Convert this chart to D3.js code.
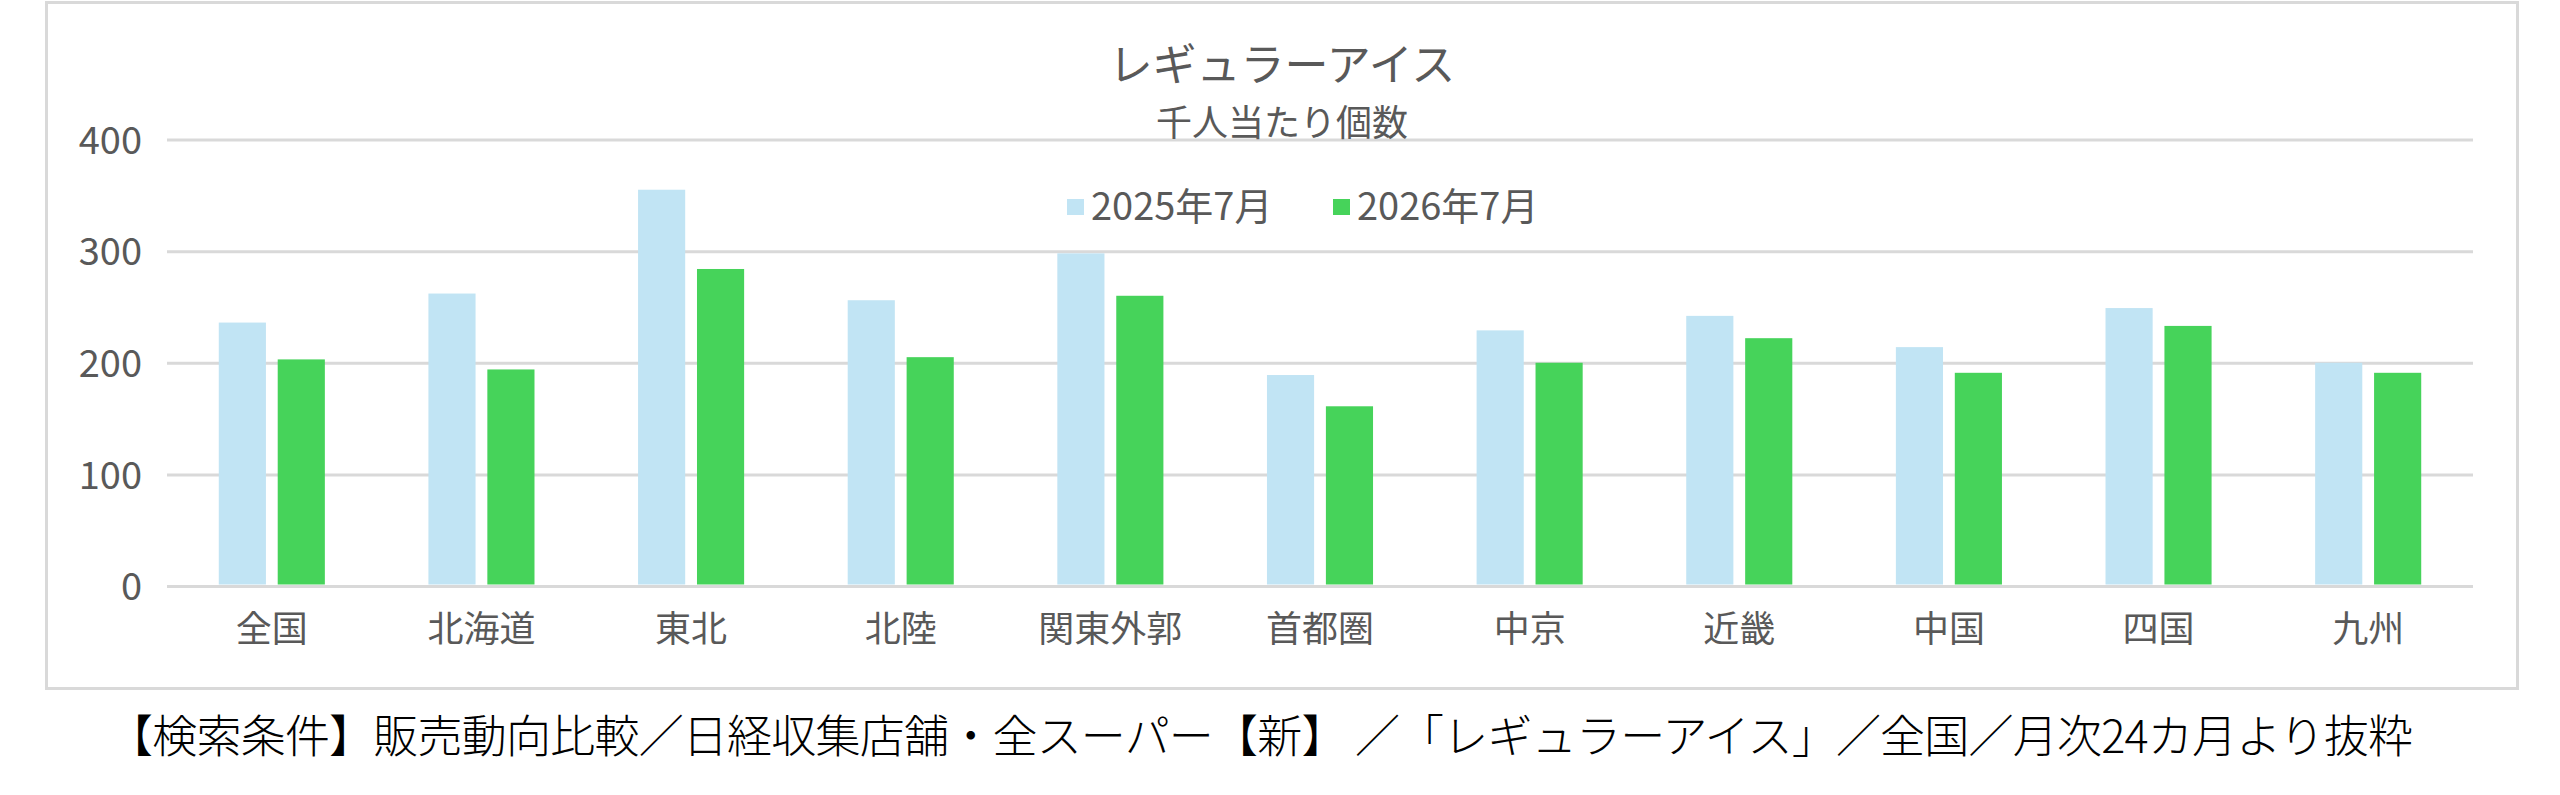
<!DOCTYPE html>
<html>
<head>
<meta charset="utf-8">
<script src="https://cdn.jsdelivr.net/npm/d3@7"></script>
<style>
  html, body { margin: 0; padding: 0; background: #fff; }
  svg { display: block; }
  text { font-family: "Noto Sans CJK JP", "Noto Sans", sans-serif; }
</style>
</head>
<body>
<svg id="chart" width="2560" height="795"></svg>
<script>
// 地域
var regions = ["全国", "北海道", "東北", "北陸", "関東外郭", "首都圏", "中京", "近畿", "中国", "四国", "九州"];
// 系列名
var seriesNames = ["2025年7月", "2026年7月"];
// 千人当たり個数
var values2025 = [236, 262, 355, 256, 298, 189, 229, 242, 214, 249, 200];
var values2026 = [203, 194, 284, 205, 260, 161, 200, 222, 191, 233, 191];
var yTicks = [0, 100, 200, 300, 400];

var titleText = "レギュラーアイス";
var subTitleText = "千人当たり個数";
var footerText = "【検索条件】販売動向比較／日経収集店舗・全スーパー【新】 ／「レギュラーアイス」／全国／月次24カ月より抜粋";

var colors = ["#c1e4f4", "#46d35a"];
var textGray = "#595959";
var gridGray = "#d9d9d9";

var svg = d3.select("#chart");

// 外枠
svg.append("rect")
  .attr("x", 46.5)
  .attr("y", 2.5)
  .attr("width", 2471)
  .attr("height", 686)
  .style("fill", "#fff")
  .style("stroke", gridGray)
  .style("stroke-width", 3);

var x0 = d3.scaleBand()
  .domain(regions)
  .range([167, 2473])
  .paddingInner(0.494)
  .paddingOuter(0.247);

var x1 = d3.scaleBand()
  .domain([0, 1])
  .range([0, x0.bandwidth()])
  .paddingInner(0.2);

var y = d3.scaleLinear()
  .domain([0, 400])
  .range([586, 139.5]);

// 目盛線
var yAxis = d3.axisLeft(y)
  .tickValues(yTicks)
  .tickSize(-(2473 - 167))
  .tickPadding(25)
  .tickFormat(d3.format("d"));

var gy = svg.append("g")
  .attr("transform", "translate(167,0)")
  .call(yAxis);
gy.select(".domain").remove();
gy.selectAll(".tick line")
  .style("stroke", gridGray)
  .style("stroke-width", 3);
gy.selectAll(".tick text")
  .style("fill", textGray)
  .style("font-size", "38px")
  .attr("dy", "0.36em");

// 棒
var rows = regions.map(function (r, i) {
  return { region: r, vals: [values2025[i], values2026[i]] };
});

var groups = svg.append("g")
  .selectAll("g")
  .data(rows)
  .enter()
  .append("g")
  .attr("transform", function (d) {
    return "translate(" + x0(d.region) + ",0)";
  });

groups.selectAll("rect")
  .data(function (d) {
    return d.vals.map(function (v, k) { return { k: k, v: v }; });
  })
  .enter()
  .append("rect")
  .attr("x", function (d) { return x1(d.k); })
  .attr("width", x1.bandwidth())
  .attr("y", function (d) { return y(d.v); })
  .attr("height", function (d) { return y(0) - y(d.v) - 1.5; })
  .style("fill", function (d) { return colors[d.k]; });

// 横軸ラベル
var xAxis = d3.axisBottom(x0).tickSize(0).tickPadding(0);
var gx = svg.append("g")
  .attr("transform", "translate(0,586)")
  .call(xAxis);
gx.select(".domain").remove();
gx.selectAll(".tick text")
  .style("fill", textGray)
  .style("font-size", "36px")
  .attr("y", 0)
  .attr("dy", 56);

// タイトル
svg.append("text")
  .attr("x", 1282)
  .attr("y", 81)
  .attr("text-anchor", "middle")
  .style("fill", textGray)
  .style("font-size", "44px")
  .text(titleText);

svg.append("text")
  .attr("x", 1282)
  .attr("y", 136)
  .attr("text-anchor", "middle")
  .style("fill", textGray)
  .style("font-size", "36px")
  .text(subTitleText);

// 凡例
var legendX = [1067, 1333];
var legend = svg.append("g")
  .selectAll("g")
  .data(seriesNames)
  .enter()
  .append("g")
  .attr("transform", function (d, i) {
    return "translate(" + legendX[i] + ",199)";
  });
legend.append("rect")
  .attr("width", 17)
  .attr("height", 16)
  .style("fill", function (d, i) { return colors[i]; });
legend.append("text")
  .attr("x", 24)
  .attr("y", 21)
  .style("fill", textGray)
  .style("font-size", "38px")
  .text(function (d) { return d; });

// 出典
svg.append("text")
  .attr("x", 108)
  .attr("y", 753)
  .attr("textLength", 2305)
  .attr("lengthAdjust", "spacing")
  .style("fill", "#000")
  .style("font-size", "45px")
  .style("font-weight", 300)
  .text(footerText);
</script>
</body>
</html>
